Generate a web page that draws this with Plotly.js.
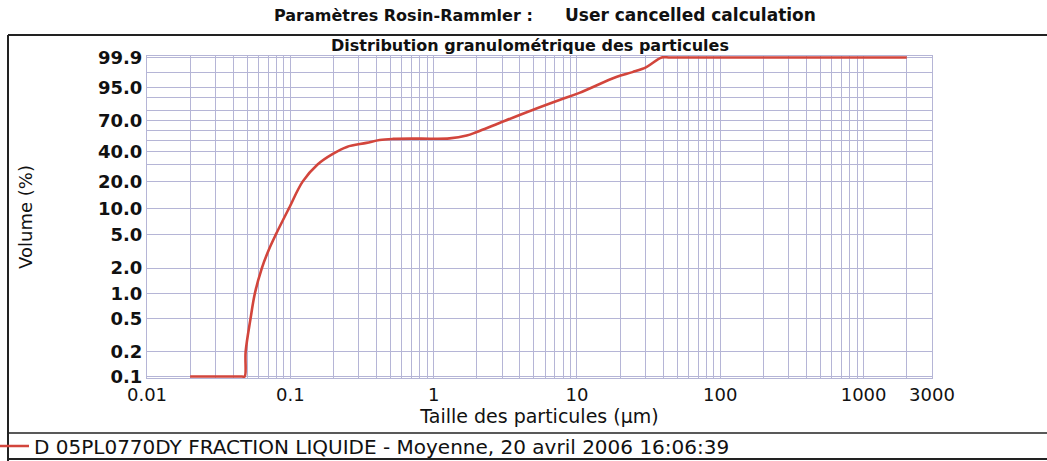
<!DOCTYPE html>
<html>
<head>
<meta charset="utf-8">
<script src="https://cdn.plot.ly/plotly-3.0.1.min.js"></script>
<style>
  html, body { margin: 0; padding: 0; background: #fff; }
  #chart { width: 1047px; height: 461px; }
</style>
</head>
<body>
<div id="chart"></div>
<script>
// Courbe cumulée : taille (µm) / volume (%)
const tailleUm = [0.02, 0.046, 0.048, 0.0488, 0.0528, 0.0566, 0.0633, 0.0708, 0.0793, 0.0977, 0.1222, 0.1549, 0.198, 0.248, 0.34, 0.42, 0.52, 0.8, 1.29, 1.7, 2.0, 2.88, 4.9, 7.55, 10.4, 18.8, 24.4, 30.5, 39, 45, 2000];
const volumePct = [0.1, 0.1, 0.1, 0.2, 0.5, 1.0, 2.0, 3.3, 5.0, 10.0, 20.0, 30, 38, 44, 47.7, 50.5, 51.5, 51.8, 52, 54.8, 58.4, 67.6, 80.1, 88.1, 92.5, 98.2, 99.0, 99.5, 99.9, 99.9, 99.9];

// Graduations
const yGridPct = [0.1, 0.2, 0.5, 1, 2, 5, 10, 20, 30, 40, 50, 60, 70, 80, 90, 95, 99, 99.9];
const yLabels = { 0.1: '0.1', 0.2: '0.2', 0.5: '0.5', 1: '1.0', 2: '2.0', 5: '5.0', 10: '10.0', 20: '20.0', 40: '40.0', 70: '70.0', 95: '95.0', 99.9: '99.9' };
const xDecades = [0.01, 0.1, 1, 10, 100];
const xExtra = [1000, 2000, 3000];
const xLabels = { 0.01: '0.01', 0.1: '0.1', 1: '1', 10: '10', 100: '100', 1000: '1000', 3000: '3000' };

const legendText = 'D 05PL0770DY FRACTION LIQUIDE - Moyenne, 20 avril 2006 16:06:39';

// échelle Rosin-Rammler : log10(-ln(1 - F))
const rr = p => Math.log10(-Math.log(1 - p / 100));

const xGridVals = [];
xDecades.forEach(d => { for (let k = 1; k <= 9; k++) xGridVals.push(+(d * k).toPrecision(3)); });
xGridVals.push(...xExtra);
const xTickText = xGridVals.map(v => xLabels[v] || '');

const GRID = '#b5b5d6';
const TXT = '#111';

// px -> paper (zone de tracé : x 147..932, y 56..378)
const px = v => (v - 147) / 785;
const py = v => (378 - v) / 322;

const trace = {
  x: tailleUm,
  y: volumePct.map(rr),
  customdata: volumePct,
  type: 'scatter',
  mode: 'lines',
  name: legendText,
  line: { color: '#d2453c', width: 2.6, shape: 'spline', smoothing: 1 },
  hovertemplate: '%{x} µm : %{customdata}%<extra></extra>',
};

const frame = { type: 'line', xref: 'paper', yref: 'paper', line: { color: '#222', width: 2 } };

const layout = {
  width: 1047,
  height: 461,
  paper_bgcolor: '#fff',
  plot_bgcolor: '#fff',
  font: { family: 'DejaVu Sans, sans-serif', size: 16, color: TXT },
  margin: { l: 147, r: 115, t: 56, b: 83, autoexpand: false },
  title: {
    text: 'Distribution granulométrique des particules',
    font: { family: 'DejaVu Sans', size: 16, weight: 'bold', color: TXT },
    x: px(530), xref: 'paper', xanchor: 'center',
    y: 1 - 45 / 461, yref: 'container', yanchor: 'middle',
  },
  xaxis: {
    type: 'log',
    range: [Math.log10(0.01), Math.log10(3000)],
    tickmode: 'array',
    tickvals: xGridVals,
    ticktext: xTickText,
    ticks: '',
    showgrid: true, gridcolor: GRID, gridwidth: 1,
    showline: true, mirror: true, linecolor: GRID, linewidth: 1,
    zeroline: false,
    automargin: false,
    tickfont: { family: 'DejaVu Sans', size: 18, color: TXT },
    title: { text: 'Taille des particules (µm)', font: { family: 'DejaVu Sans', size: 19, color: TXT }, standoff: 6 },
  },
  yaxis: {
    range: [rr(0.1) - 0.018, rr(99.9) + 0.018],
    tickmode: 'array',
    tickvals: yGridPct.map(rr),
    ticktext: yGridPct.map(v => yLabels[v] || ''),
    ticks: '',
    showgrid: true, gridcolor: GRID, gridwidth: 1,
    showline: true, mirror: true, linecolor: GRID, linewidth: 1,
    zeroline: false,
    automargin: false,
    tickfont: { family: 'DejaVu Sans', size: 18, weight: 'bold', color: TXT },
    title: { text: 'Volume (%)', font: { family: 'DejaVu Sans', size: 18, color: TXT }, standoff: 60 },
  },
  showlegend: true,
  legend: {
    x: px(-6), xanchor: 'left',
    y: py(446), yanchor: 'middle',
    bgcolor: 'rgba(0,0,0,0)',
    itemwidth: 30,
    font: { family: 'DejaVu Sans', size: 20, color: TXT },
  },
  annotations: [
    { text: 'Paramètres Rosin-Rammler :', xref: 'paper', yref: 'paper', x: px(272), y: py(15), xanchor: 'left', yanchor: 'middle', showarrow: false, font: { family: 'DejaVu Sans', size: 16, weight: 'bold', color: TXT } },
    { text: 'User cancelled calculation', xref: 'paper', yref: 'paper', x: px(563), y: py(15), xanchor: 'left', yanchor: 'middle', showarrow: false, font: { family: 'DejaVu Sans', size: 17, weight: 'bold', color: TXT } },
  ],
  shapes: [
    { ...frame, x0: px(8), x1: px(1060), y0: py(35), y1: py(35) },
    { ...frame, x0: px(8), x1: px(8), y0: py(35), y1: py(461) },
    { ...frame, x0: px(8), x1: px(1060), y0: py(433), y1: py(433), line: { color: '#222', width: 1.5 } },
    { ...frame, x0: px(8), x1: px(1060), y0: py(459), y1: py(459) },
  ],
};

Plotly.newPlot('chart', [trace], layout, { displayModeBar: false, staticPlot: true });
</script>
</body>
</html>
